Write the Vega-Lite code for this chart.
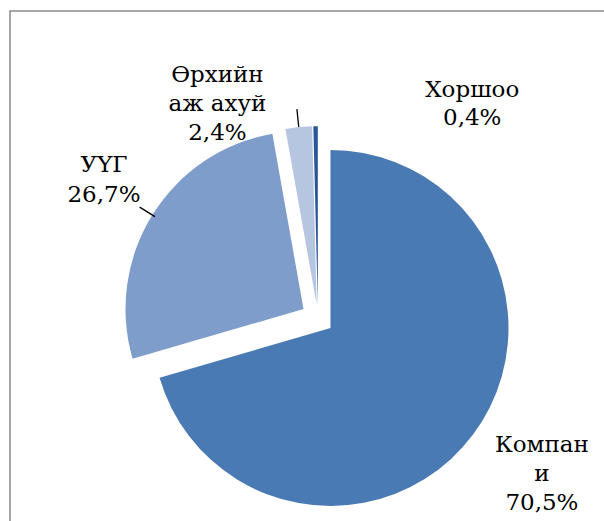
{
  "$schema": "https://vega.github.io/schema/vega-lite/v6.json",
  "width": 616,
  "height": 614,
  "autosize": {"type": "none"},
  "padding": {"left": 10, "top": 11, "right": -22, "bottom": -104},
  "background": "white",
  "config": {
    "view": {"stroke": "#8a8a8a", "strokeWidth": 1.5}
  },
  "data": {
    "values": [
      {"category": "Компани", "share": 70.5, "order": 1, "label": "Компан\nи\n70,5%"},
      {"category": "УҮГ", "share": 26.7, "order": 2, "label": "УҮГ\n26,7%"},
      {"category": "Өрхийн аж ахуй", "share": 2.4, "order": 3, "label": "Өрхийн\nаж ахуй\n2,4%"},
      {"category": "Хоршоо", "share": 0.4, "order": 4, "label": "Хоршоо\n0,4%"}
    ]
  },
  "layer": [
    {
      "transform": [
        {"stack": "share", "groupby": [], "sort": [{"field": "order"}], "as": ["s0", "s1"]},
        {"filter": "datum.category === 'Компани'"}
      ],
      "mark": {"type": "arc", "outerRadius": 178, "xOffset": 12.5, "yOffset": 10},
      "encoding": {
        "x": {"datum": 0, "type": "quantitative", "scale": {"domain": [-1, 1]}, "axis": null},
        "y": {"datum": 0, "type": "quantitative", "scale": {"domain": [-1, 1]}, "axis": null},
        "theta": {"field": "s0", "type": "quantitative", "stack": null, "scale": {"domain": [0, 100]}},
        "theta2": {"field": "s1"},
        "color": {"field": "category", "type": "nominal", "legend": null,
          "scale": {"domain": ["Компани", "УҮГ", "Өрхийн аж ахуй", "Хоршоо"], "range": ["#4a7ab4", "#7e9dca", "#b6c6e1", "#2c5597"]}}
      }
    },
    {
      "transform": [
        {"stack": "share", "groupby": [], "sort": [{"field": "order"}], "as": ["s0", "s1"]},
        {"filter": "datum.category === 'УҮГ'"}
      ],
      "mark": {"type": "arc", "outerRadius": 178, "xOffset": -14.5, "yOffset": -9},
      "encoding": {
        "x": {"datum": 0, "type": "quantitative", "scale": {"domain": [-1, 1]}, "axis": null},
        "y": {"datum": 0, "type": "quantitative", "scale": {"domain": [-1, 1]}, "axis": null},
        "theta": {"field": "s0", "type": "quantitative", "stack": null, "scale": {"domain": [0, 100]}},
        "theta2": {"field": "s1"},
        "color": {"field": "category", "type": "nominal", "legend": null}
      }
    },
    {
      "transform": [
        {"stack": "share", "groupby": [], "sort": [{"field": "order"}], "as": ["s0", "s1"]},
        {"filter": "datum.category === 'Өрхийн аж ахуй'"}
      ],
      "mark": {"type": "arc", "outerRadius": 178, "xOffset": -1.4, "yOffset": -13.8},
      "encoding": {
        "x": {"datum": 0, "type": "quantitative", "scale": {"domain": [-1, 1]}, "axis": null},
        "y": {"datum": 0, "type": "quantitative", "scale": {"domain": [-1, 1]}, "axis": null},
        "theta": {"field": "s0", "type": "quantitative", "stack": null, "scale": {"domain": [0, 100]}},
        "theta2": {"field": "s1"},
        "color": {"field": "category", "type": "nominal", "legend": null}
      }
    },
    {
      "transform": [
        {"stack": "share", "groupby": [], "sort": [{"field": "order"}], "as": ["s0", "s1"]},
        {"filter": "datum.category === 'Хоршоо'"}
      ],
      "mark": {"type": "arc", "outerRadius": 178, "xOffset": -0.2, "yOffset": -13.8},
      "encoding": {
        "x": {"datum": 0, "type": "quantitative", "scale": {"domain": [-1, 1]}, "axis": null},
        "y": {"datum": 0, "type": "quantitative", "scale": {"domain": [-1, 1]}, "axis": null},
        "theta": {"field": "s0", "type": "quantitative", "stack": null, "scale": {"domain": [0, 100]}},
        "theta2": {"field": "s1"},
        "color": {"field": "category", "type": "nominal", "legend": null}
      }
    },
    {
      "mark": {"type": "arc", "innerRadius": 192, "outerRadius": 210, "padAngle": 3, "filled": false, "stroke": "#000000", "strokeWidth": 1.3},
      "encoding": {
        "x": {"datum": 0, "type": "quantitative", "scale": {"domain": [-1, 1]}, "axis": null},
        "y": {"datum": 0, "type": "quantitative", "scale": {"domain": [-1, 1]}, "axis": null},
        "theta": {"field": "share", "type": "quantitative", "stack": true, "scale": {"domain": [0, 100]}},
        "order": {"field": "order"},
        "strokeOpacity": {"condition": {"test": "datum.category === 'Хоршоо' || datum.category === 'Компани'", "value": 0}, "value": 1}
      }
    },
    {
      "mark": {"type": "text", "radius": 260, "dx": 16, "dy": -22, "font": "DejaVu Serif", "fontSize": 23, "lineHeight": 29, "lineBreak": "\n", "align": "center", "baseline": "alphabetic", "color": "#000000"},
      "encoding": {
        "theta": {"field": "share", "type": "quantitative", "stack": true, "scale": {"domain": [0, 100]}},
        "order": {"field": "order"},
        "text": {"condition": {"test": "datum.category === 'Компани'", "field": "label"}, "value": ""}
      }
    },
    {
      "mark": {"type": "text", "radius": 259, "dx": 6, "dy": -9, "font": "DejaVu Serif", "fontSize": 23, "lineHeight": 30, "lineBreak": "\n", "align": "center", "baseline": "alphabetic", "color": "#000000"},
      "encoding": {
        "theta": {"field": "share", "type": "quantitative", "stack": true, "scale": {"domain": [0, 100]}},
        "order": {"field": "order"},
        "text": {"condition": {"test": "datum.category === 'УҮГ'", "field": "label"}, "value": ""}
      }
    },
    {
      "mark": {"type": "text", "radius": 245, "dx": -76, "dy": 8, "font": "DejaVu Serif", "fontSize": 23, "lineHeight": 29, "lineBreak": "\n", "align": "center", "baseline": "alphabetic", "color": "#000000"},
      "encoding": {
        "theta": {"field": "share", "type": "quantitative", "stack": true, "scale": {"domain": [0, 100]}},
        "order": {"field": "order"},
        "text": {"condition": {"test": "datum.category === 'Өрхийн аж ахуй'", "field": "label"}, "value": ""}
      }
    },
    {
      "mark": {"type": "text", "radius": 219, "dx": 157, "dy": -2, "font": "DejaVu Serif", "fontSize": 23, "lineHeight": 28, "lineBreak": "\n", "align": "center", "baseline": "alphabetic", "color": "#000000"},
      "encoding": {
        "theta": {"field": "share", "type": "quantitative", "stack": true, "scale": {"domain": [0, 100]}},
        "order": {"field": "order"},
        "text": {"condition": {"test": "datum.category === 'Хоршоо'", "field": "label"}, "value": ""}
      }
    }
  ]
}
